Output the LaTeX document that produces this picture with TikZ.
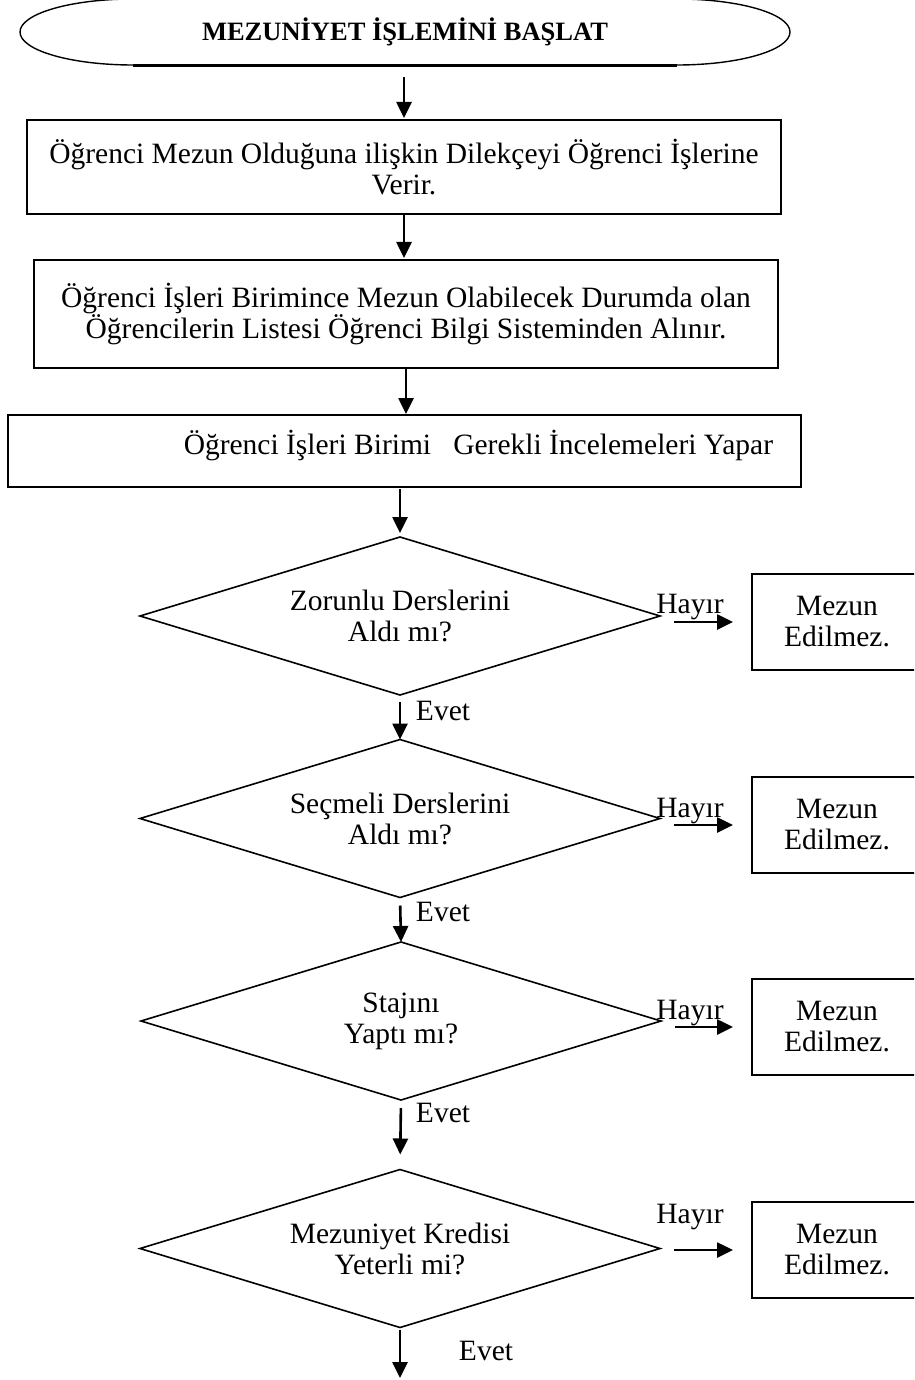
\documentclass[tikz,border=0pt]{standalone}
\usepackage{fontspec}
\setmainfont{Liberation Serif}
\usetikzlibrary{shapes.geometric,arrows.meta,calc}

\begin{document}
\begin{tikzpicture}[x=1pt,y=-1pt,
  every node/.style={font=\fontsize{29.5}{31}\selectfont, outer sep=0pt},
  frame/.style={draw, line width=1.6pt},
  stepbox/.style={frame, rectangle, inner sep=0pt, align=center},
  decision/.style={frame, diamond, aspect=3.3, minimum width=520pt, minimum height=158pt, inner sep=0pt, align=center},
  endbox/.style={frame, rectangle, inner sep=0pt, align=center, minimum width=170pt, minimum height=96pt},
  lbl/.style={inner sep=0pt},
  arr/.style={line width=2.6pt, -{Triangle[length=16pt,width=15pt]}}
]
\useasboundingbox (0,0) rectangle (914,1380);
\clip (0,0) rectangle (914,1380);

% start of the procedure: a long oval with elliptical ends
\draw[line width=1.4pt] (133,-1) arc[start angle=270, end angle=90, x radius=113, y radius=33]
  -- (677,65) arc[start angle=90, end angle=-90, x radius=113, y radius=33] -- cycle;
\draw[line width=2.4pt] (133,65.5) -- (677,65.5);
\node[inner sep=0pt, minimum width=770pt, minimum height=66pt,
  font=\bfseries\fontsize{26.5}{28}\selectfont] (start) at (405,32) {MEZUNİYET İŞLEMİNİ BAŞLAT};

% processing steps
\node[stepbox, minimum width=754pt, minimum height=94pt] (b1) at (404,167)
  {Öğrenci Mezun Olduğuna ilişkin Dilekçeyi Öğrenci İşlerine\\Verir.};
\node[stepbox, minimum width=744pt, minimum height=108pt] (b2) at (406,314)
  {Öğrenci İşleri Birimince Mezun Olabilecek Durumda olan\\Öğrencilerin Listesi Öğrenci Bilgi Sisteminden Alınır.};
\node[stepbox, minimum width=793pt, minimum height=72pt] (b3) at (404.5,451) {};
\node[lbl, anchor=east] (b3t) at (773,446) {Öğrenci İşleri Birimi\ \ \ Gerekli İncelemeleri Yapar};

% checks
\node[decision] (d1) at (400,616) {Zorunlu Derslerini\\Aldı mı?};
\node[decision] (d2) at (400,818.5) {Seçmeli Derslerini\\Aldı mı?};
\node[decision] (d3) at (401,1021) {Stajını\\Yaptı mı?};
\node[decision] (d4) at (400,1248.5) {Mezuniyet Kredisi\\Yeterli mi?};

% negative outcomes
\node[endbox] (m1) at (837,622) {Mezun\\Edilmez.};
\node[endbox] (m2) at (837,825) {Mezun\\Edilmez.};
\node[endbox] (m3) at (837,1027) {Mezun\\Edilmez.};
\node[endbox] (m4) at (837,1250) {Mezun\\Edilmez.};

% branch labels
\node[lbl] (h1) at (690,607) {Hayır};
\node[lbl] (h2) at (690,811) {Hayır};
\node[lbl] (h3) at (690,1013) {Hayır};
\node[lbl] (h4) at (690,1217) {Hayır};
\node[lbl] (e1) at (443,711) {Evet};
\node[lbl] (e2) at (443,912) {Evet};
\node[lbl] (e3) at (443,1113) {Evet};
\node[lbl] (e4) at (486,1351) {Evet};

\coordinate (out) at (400,1378);

% main flow
\draw[arr, shorten <=12pt, shorten >=2pt] (b1.north |- start.south) -- (b1.north);
\draw[arr, shorten >=2pt] (b1.south) -- (b1.south |- b2.north);
\draw[arr, shorten >=1pt] (b2.south) -- (b2.south |- b3.north);
\draw[arr, shorten <=2pt, shorten >=4pt] (d1.north |- b3.south) -- (d1.north);
\draw[arr, shorten <=7pt] (d1.south) -- (d2.north);
\draw[arr, shorten <=8pt] (d2.south) -- (d3.north);
\draw[arr, shorten <=8pt, shorten >=15pt] (d3.south) -- (d4.north);
\draw[arr, shorten <=2pt] (d4.south) -- (out);

% rejection branches
\draw[arr, shorten <=14pt, shorten >=19pt] (d1.east |- m1.west) -- (m1.west);
\draw[arr, shorten <=14pt, shorten >=19pt] (d2.east |- m2.west) -- (m2.west);
\draw[arr, shorten <=14pt, shorten >=19pt] (d3.east |- m3.west) -- (m3.west);
\draw[arr, shorten <=14pt, shorten >=19pt] (d4.east |- m4.west) -- (m4.west);
\end{tikzpicture}
\end{document}
